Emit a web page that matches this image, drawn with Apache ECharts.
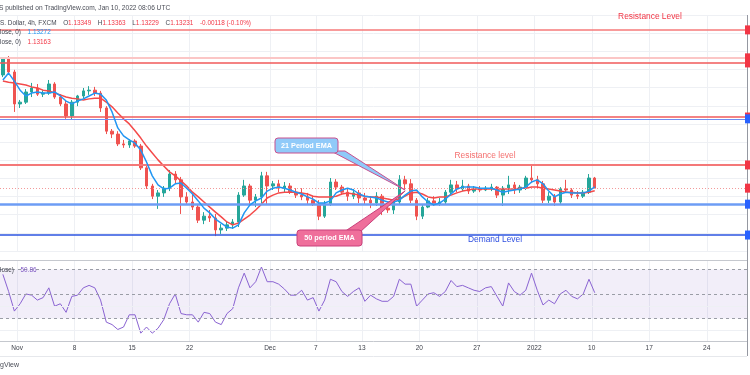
<!DOCTYPE html>
<html>
<head>
<meta charset="utf-8">
<script src="https://cdn.jsdelivr.net/npm/echarts@6.0.0/dist/echarts.min.js"></script>
<style>
html,body{margin:0;padding:0;background:#ffffff;}
#chart{width:750px;height:375px;}
</style>
</head>
<body>
<div id="chart"></div>
<script>
// ---------------- data (EUR/USD, 12h sessions) ----------------
const firstSession = '2021-10-28';
const sessionCount = 130;
const tickDates = ['2021-11-01','2021-11-08','2021-11-15','2021-11-22','2021-12-01','2021-12-07','2021-12-13','2021-12-20','2021-12-27','2022-01-03','2022-01-10','2022-01-17','2022-01-24'];
const tickTexts = ['Nov','8','15','22','Dec','7','13','20','27','2022','10','17','24'];

const opens = [1.1635,1.1682,1.1643,1.1555,1.1560,1.1588,1.1599,1.1582,1.1585,1.1610,
1.1574,1.1555,1.1522,1.1560,1.1577,1.1591,1.1593,1.1585,1.1544,1.1480,
1.1472,1.1445,1.1442,1.1453,1.1439,1.1379,1.1329,1.1301,1.1310,1.1323,
1.1362,1.1346,1.1299,1.1285,1.1271,1.1235,1.1246,1.1241,1.1208,1.1213,
1.1222,1.1230,1.1304,1.1329,1.1290,1.1299,1.1357,1.1329,1.1335,1.1323,
1.1329,1.1312,1.1304,1.1299,1.1290,1.1279,1.1246,1.1279,1.1340,1.1326,
1.1312,1.1301,1.1310,1.1296,1.1290,1.1282,1.1301,1.1268,1.1263,1.1285,
1.1346,1.1335,1.1290,1.1246,1.1271,1.1288,1.1279,1.1285,1.1312,1.1332,
1.1321,1.1329,1.1315,1.1321,1.1318,1.1323,1.1326,1.1304,1.1323,1.1332,
1.1318,1.1326,1.1351,1.1346,1.1335,1.1290,1.1301,1.1285,1.1321,1.1318,
1.1304,1.1301,1.1312,1.1351];
const highs = [1.1684,1.1687,1.1649,1.1566,1.1596,1.1613,1.1610,1.1593,1.1621,1.1615,
1.1582,1.1563,1.1566,1.1580,1.1599,1.1604,1.1602,1.1591,1.1549,1.1486,
1.1480,1.1456,1.1458,1.1458,1.1445,1.1387,1.1335,1.1318,1.1329,1.1373,
1.1370,1.1354,1.1312,1.1307,1.1277,1.1257,1.1263,1.1252,1.1224,1.1230,
1.1238,1.1312,1.1346,1.1335,1.1307,1.1368,1.1368,1.1343,1.1346,1.1340,
1.1337,1.1323,1.1323,1.1310,1.1301,1.1290,1.1288,1.1351,1.1348,1.1332,
1.1323,1.1321,1.1318,1.1310,1.1301,1.1312,1.1307,1.1282,1.1290,1.1359,
1.1357,1.1348,1.1296,1.1277,1.1296,1.1301,1.1296,1.1318,1.1346,1.1343,
1.1346,1.1335,1.1329,1.1329,1.1329,1.1335,1.1329,1.1329,1.1357,1.1340,
1.1332,1.1357,1.1387,1.1357,1.1343,1.1312,1.1307,1.1326,1.1346,1.1323,
1.1315,1.1318,1.1362,1.1354];
const lows = [1.1629,1.1640,1.1533,1.1544,1.1555,1.1574,1.1577,1.1574,1.1580,1.1569,
1.1549,1.1514,1.1511,1.1549,1.1571,1.1580,1.1577,1.1533,1.1472,1.1461,
1.1439,1.1434,1.1434,1.1434,1.1373,1.1321,1.1293,1.1266,1.1299,1.1315,
1.1337,1.1252,1.1277,1.1263,1.1227,1.1224,1.1230,1.1191,1.1197,1.1205,
1.1211,1.1216,1.1299,1.1274,1.1271,1.1282,1.1277,1.1318,1.1312,1.1312,
1.1307,1.1296,1.1290,1.1277,1.1274,1.1235,1.1241,1.1274,1.1318,1.1304,
1.1288,1.1293,1.1282,1.1279,1.1268,1.1274,1.1249,1.1255,1.1252,1.1277,
1.1321,1.1282,1.1235,1.1238,1.1268,1.1274,1.1274,1.1279,1.1307,1.1312,
1.1315,1.1307,1.1310,1.1312,1.1315,1.1315,1.1296,1.1274,1.1307,1.1307,
1.1310,1.1318,1.1337,1.1323,1.1282,1.1282,1.1274,1.1279,1.1312,1.1296,
1.1293,1.1296,1.1307,1.1323];
const closes = [1.1682,1.1643,1.1555,1.1560,1.1588,1.1599,1.1582,1.1585,1.1610,1.1574,
1.1555,1.1522,1.1560,1.1577,1.1591,1.1593,1.1585,1.1544,1.1480,1.1472,
1.1445,1.1442,1.1453,1.1439,1.1379,1.1329,1.1301,1.1310,1.1323,1.1362,
1.1346,1.1299,1.1285,1.1271,1.1235,1.1246,1.1241,1.1208,1.1213,1.1222,
1.1230,1.1304,1.1329,1.1290,1.1299,1.1357,1.1329,1.1335,1.1323,1.1329,
1.1312,1.1304,1.1299,1.1290,1.1279,1.1246,1.1279,1.1340,1.1326,1.1312,
1.1301,1.1310,1.1296,1.1290,1.1282,1.1301,1.1268,1.1263,1.1285,1.1346,
1.1335,1.1290,1.1246,1.1271,1.1288,1.1279,1.1285,1.1312,1.1332,1.1321,
1.1329,1.1315,1.1321,1.1318,1.1323,1.1326,1.1304,1.1323,1.1332,1.1318,
1.1326,1.1351,1.1346,1.1335,1.1290,1.1301,1.1285,1.1321,1.1318,1.1304,
1.1301,1.1312,1.1351,1.1323];
const ema21 = [1.1621,1.1640,1.1618,1.1593,1.1577,1.1585,1.1588,1.1585,1.1585,1.1588,
1.1577,1.1563,1.1555,1.1563,1.1569,1.1577,1.1585,1.1582,1.1566,1.1533,
1.1489,1.1467,1.1456,1.1447,1.1428,1.1395,1.1357,1.1332,1.1321,1.1323,
1.1335,1.1337,1.1323,1.1307,1.1288,1.1268,1.1255,1.1238,1.1227,1.1216,
1.1213,1.1222,1.1255,1.1277,1.1288,1.1296,1.1315,1.1323,1.1326,1.1323,
1.1318,1.1312,1.1307,1.1299,1.1293,1.1282,1.1282,1.1288,1.1310,1.1318,
1.1323,1.1318,1.1307,1.1301,1.1299,1.1296,1.1290,1.1285,1.1285,1.1290,
1.1304,1.1315,1.1318,1.1299,1.1285,1.1277,1.1282,1.1293,1.1307,1.1321,
1.1326,1.1326,1.1326,1.1323,1.1323,1.1323,1.1318,1.1312,1.1315,1.1318,
1.1321,1.1326,1.1340,1.1346,1.1335,1.1315,1.1299,1.1307,1.1312,1.1310,
1.1310,1.1310,1.1315,1.1327];
const ema50 = [1.1618,1.1615,1.1613,1.1610,1.1607,1.1602,1.1599,1.1593,1.1591,1.1585,
1.1580,1.1574,1.1571,1.1569,1.1566,1.1569,1.1571,1.1571,1.1560,1.1547,
1.1530,1.1514,1.1500,1.1481,1.1461,1.1439,1.1420,1.1401,1.1384,1.1368,
1.1357,1.1343,1.1329,1.1312,1.1299,1.1285,1.1271,1.1257,1.1244,1.1230,
1.1222,1.1227,1.1238,1.1249,1.1263,1.1279,1.1296,1.1304,1.1310,1.1312,
1.1312,1.1312,1.1310,1.1307,1.1301,1.1299,1.1299,1.1299,1.1301,1.1307,
1.1310,1.1307,1.1304,1.1301,1.1299,1.1299,1.1296,1.1293,1.1290,1.1293,
1.1301,1.1310,1.1312,1.1307,1.1299,1.1296,1.1299,1.1299,1.1304,1.1310,
1.1315,1.1318,1.1321,1.1321,1.1321,1.1321,1.1321,1.1321,1.1321,1.1321,
1.1323,1.1323,1.1326,1.1326,1.1323,1.1321,1.1318,1.1315,1.1312,1.1312,
1.1310,1.1310,1.1312,1.1316];
const rsi = [66,52,36,42,50,49,45,47,55,40,
42,35,48,49,55,57,55,45,27,25,
21,23,33,33,18,23,18,22,29,42,
50,34,33,33,27,35,34,27,25,34,
38,55,67,55,60,72,60,60,58,54,
49,49,53,45,47,36,45,62,60,52,
48,52,55,44,49,46,44,44,48,62,
58,58,40,45,50,51,48,52,61,56,
57,55,53,52,55,56,48,40,59,52,
49,53,67,53,41,45,42,50,53,48,
46,50,62,51];

const priceMin = 1.115, priceMax = 1.18, priceStep = 0.005;
const rsiGridLevels = [20,40];
const rsiDashedLevels = [70,50,30];
const resistanceLevels = [1.1759,1.1682,1.1668,1.1519,1.1387];
const supportLevels = [1.1514,1.1279,1.1194];
const lastPrice = 1.13231;
const legendValues = ['1.13349','1.13363','1.13229','1.13231','-0.00118 (-0.10%)'];
const ema21Last = '1.13272';
const ema50Last = '1.13163';
const rsiLast = '50.86';

// ---------------- build ----------------
function buildSessions(startISO, count) {
  const out = [];
  let t = Date.parse(startISO + 'T00:00:00Z');
  while (out.length < count + 1) {
    const d = new Date(t);
    const wd = d.getUTCDay();
    if (wd !== 0 && wd !== 6) {
      const s = d.toISOString().slice(0, 10);
      out.push(s + ' 00:00', s + ' 12:00');
    }
    t += 86400000;
  }
  return out.slice(1, count + 1);
}
const categories = buildSessions(firstSession, sessionCount);
const tickMap = {};
tickDates.forEach((d, i) => { tickMap[d + ' 00:00'] = tickTexts[i]; });
const isTick = (i, v) => Object.prototype.hasOwnProperty.call(tickMap, v);

const candleData = opens.map((o, i) => [o, closes[i], lows[i], highs[i]]);

const UP = '#26a69a', DOWN = '#ef5350';
const GRID = '#eef0f4';
const FONT = 'Liberation Sans, Arial, sans-serif';

const resistanceStyles = [
  {color:'#f67a7a', width:1.5},
  {color:'#fbc6c6', width:2},
  {color:'#f05a5a', width:1.5},
  {color:'#f05a5a', width:1.5},
  {color:'#f47878', width:2}
];
const supportStyles = [
  {color:'#6f8ff2', width:1},
  {color:'#6d9cf5', width:2.5},
  {color:'#2c55e0', width:1.5}
];

const levelMarks = [];
resistanceLevels.forEach((v, i) => levelMarks.push({yAxis: v, lineStyle: Object.assign({type:'solid'}, resistanceStyles[i])}));
supportLevels.forEach((v, i) => levelMarks.push({yAxis: v, lineStyle: Object.assign({type:'solid'}, supportStyles[i])}));
levelMarks.push({yAxis: lastPrice, lineStyle: {type:[1,2], color:'#f39a9a', width:1}});

const rsiMarks = rsiGridLevels.map(v => ({yAxis:v, lineStyle:{type:'solid', color:GRID, width:1}}))
  .concat(rsiDashedLevels.map(v => ({yAxis:v, lineStyle:{type:[3,3], color:'#9a9da6', width:1}})));

const chart = echarts.init(document.getElementById('chart'), null, {renderer:'canvas'});

const option = {
  animation: false,
  backgroundColor: '#ffffff',
  textStyle: {fontFamily: FONT},
  grid: [
    {left: 0, width: 747, top: 15, height: 236},
    {left: 0, width: 747, top: 261, height: 80}
  ],
  xAxis: [
    {type:'category', gridIndex:0, data: categories, boundaryGap:true,
     axisLine:{show:false}, axisTick:{show:false}, axisLabel:{show:false},
     splitLine:{show:true, interval:isTick, lineStyle:{color:GRID, width:1}}},
    {type:'category', gridIndex:1, data: categories, boundaryGap:true,
     axisLine:{show:true, lineStyle:{color:'#c5c8ce', width:1}}, axisTick:{show:false},
     axisLabel:{show:true, interval:isTick, formatter:(v)=>tickMap[v]||'', fontSize:6.5, color:'#3b3e47', margin:4, padding:[0,6,0,0], fontFamily:FONT},
     splitLine:{show:true, interval:isTick, lineStyle:{color:GRID, width:1}}}
  ],
  yAxis: [
    {type:'value', gridIndex:0, min:priceMin, max:priceMax, interval:priceStep,
     axisLine:{show:false}, axisTick:{show:false}, axisLabel:{show:false},
     splitLine:{show:true, lineStyle:{color:GRID, width:1}}},
    {type:'value', gridIndex:1, min:11.6, max:76.9,
     axisLine:{show:false}, axisTick:{show:false}, axisLabel:{show:false}, splitLine:{show:false}}
  ],
  series: [
    {type:'candlestick', xAxisIndex:0, yAxisIndex:0, data: candleData, z:3, barWidth:3,
     itemStyle:{color:UP, color0:DOWN, borderColor:UP, borderColor0:DOWN, borderWidth:1},
     markLine:{silent:true, symbol:['none','none'], label:{show:false}, animation:false, precision:6, data: levelMarks}},
    {type:'line', xAxisIndex:0, yAxisIndex:0, data: ema50, z:4, showSymbol:false, symbol:'none',
     lineStyle:{color:'#f44a4a', width:1.5}},
    {type:'line', xAxisIndex:0, yAxisIndex:0, data: ema21, z:5, showSymbol:false, symbol:'none',
     lineStyle:{color:'#2196f3', width:1.5}},
    {type:'line', xAxisIndex:1, yAxisIndex:1, data: rsi, z:3, showSymbol:false, symbol:'none',
     lineStyle:{color:'#8a63d2', width:1},
     markArea:{silent:true, itemStyle:{color:'rgba(126,87,194,0.1)'}, data:[[{yAxis:30},{yAxis:70}]]},
     markLine:{silent:true, symbol:['none','none'], label:{show:false}, animation:false, precision:4, data: rsiMarks}}
  ]
};
chart.setOption(option);

// ---------------- annotations ----------------
const py = (v) => chart.convertToPixel({yAxisIndex:0}, v);
const tip = chart.convertToPixel({gridIndex:0}, [70, 1.1318]);
const g = [];
g.push({type:'line', shape:{x1:0, y1:260.5, x2:747, y2:260.5}, style:{stroke:'#c5c8ce', lineWidth:1}, z:50});
g.push({type:'line', shape:{x1:747.5, y1:15, x2:747.5, y2:356}, style:{stroke:'#9598a1', lineWidth:1}, z:50});
g.push({type:'line', shape:{x1:0, y1:356.5, x2:747, y2:356.5}, style:{stroke:'#e6e8ec', lineWidth:1}, z:50});
resistanceLevels.forEach(v => g.push({type:'rect', shape:{x:745, y:py(v)-4.5, width:5, height:9}, style:{fill:'#f23645'}, z:60}));
g.push({type:'rect', shape:{x:745, y:py(lastPrice)-4.5, width:5, height:9}, style:{fill:'#f23645'}, z:60});
supportLevels.forEach(v => g.push({type:'rect', shape:{x:745, y:py(v)-4.5, width:5, height:9}, style:{fill:'#2962ff'}, z:61}));

g.push({type:'text', x:-1, y:8, style:{text:'S published on TradingView.com, Jan 10, 2022 08:06 UTC', fill:'#4a4d57', font:'6.6px '+FONT, verticalAlign:'middle'}, z:70});
g.push({type:'text', x:0, y:23, style:{
  text:'{k|S. Dollar, 4h, FXCM}  {k|O}{v|'+legendValues[0]+'}  {k|H}{v|'+legendValues[1]+'}  {k|L}{v|'+legendValues[2]+'}  {k|C}{v|'+legendValues[3]+'}  {v|'+legendValues[4]+'}',
  verticalAlign:'middle',
  rich:{k:{fill:'#434651', fontSize:6.4, fontFamily:FONT}, v:{fill:'#f23645', fontSize:6.4, fontFamily:FONT}}
}, z:70});
g.push({type:'text', x:0, y:32, style:{text:'{k|lose, 0)}  {v|'+ema21Last+'}', verticalAlign:'middle',
  rich:{k:{fill:'#434651', fontSize:6.4, fontFamily:FONT}, v:{fill:'#2196f3', fontSize:6.4, fontFamily:FONT}}}, z:70});
g.push({type:'text', x:0, y:42, style:{text:'{k|lose, 0)}  {v|'+ema50Last+'}', verticalAlign:'middle',
  rich:{k:{fill:'#434651', fontSize:6.4, fontFamily:FONT}, v:{fill:'#f23645', fontSize:6.4, fontFamily:FONT}}}, z:70});
g.push({type:'text', x:0, y:270, style:{text:'{k|lose)}  {v|'+rsiLast+'}', verticalAlign:'middle',
  rich:{k:{fill:'#434651', fontSize:6.4, fontFamily:FONT}, v:{fill:'#7e57c2', fontSize:6.4, fontFamily:FONT}}}, z:70});
g.push({type:'text', x:0, y:365, style:{text:'gView', fill:'#4a4d57', font:'7px '+FONT, verticalAlign:'middle'}, z:70});

g.push({type:'text', x:650, y:17, style:{text:'Resistance Level', fill:'#f23645', font:'8.4px '+FONT, align:'center', verticalAlign:'middle'}, z:70});
g.push({type:'text', x:485, y:156, style:{text:'Resistance level', fill:'#f4706f', font:'8.4px '+FONT, align:'center', verticalAlign:'middle'}, z:70});
g.push({type:'text', x:495, y:240, style:{text:'Demand Level', fill:'#2f4fe0', font:'8.4px '+FONT, align:'center', verticalAlign:'middle'}, z:70});

g.push({type:'polygon', shape:{points:[[331,151],[345,151],[tip[0], tip[1]]]}, style:{fill:'#90caf9', stroke:'#c8508f', lineWidth:1}, z:80});
g.push({type:'rect', shape:{x:275, y:138, width:63, height:15, r:3}, style:{fill:'#90caf9', stroke:'#c8508f', lineWidth:1}, z:81});
g.push({type:'text', x:306.5, y:145.5, style:{text:'21 Period EMA', fill:'#ffffff', font:'bold 7.3px '+FONT, align:'center', verticalAlign:'middle'}, z:82});
g.push({type:'polygon', shape:{points:[[344,232],[360,232],[tip[0], tip[1]+1]]}, style:{fill:'#ef6f9b', stroke:'#c9407a', lineWidth:1}, z:80});
g.push({type:'rect', shape:{x:297, y:230, width:65, height:16, r:3}, style:{fill:'#ef6f9b', stroke:'#c9407a', lineWidth:1}, z:81});
g.push({type:'text', x:329.5, y:238, style:{text:'50 period EMA', fill:'#ffffff', font:'bold 7.3px '+FONT, align:'center', verticalAlign:'middle'}, z:82});

chart.setOption({graphic: g});
</script>
</body>
</html>
